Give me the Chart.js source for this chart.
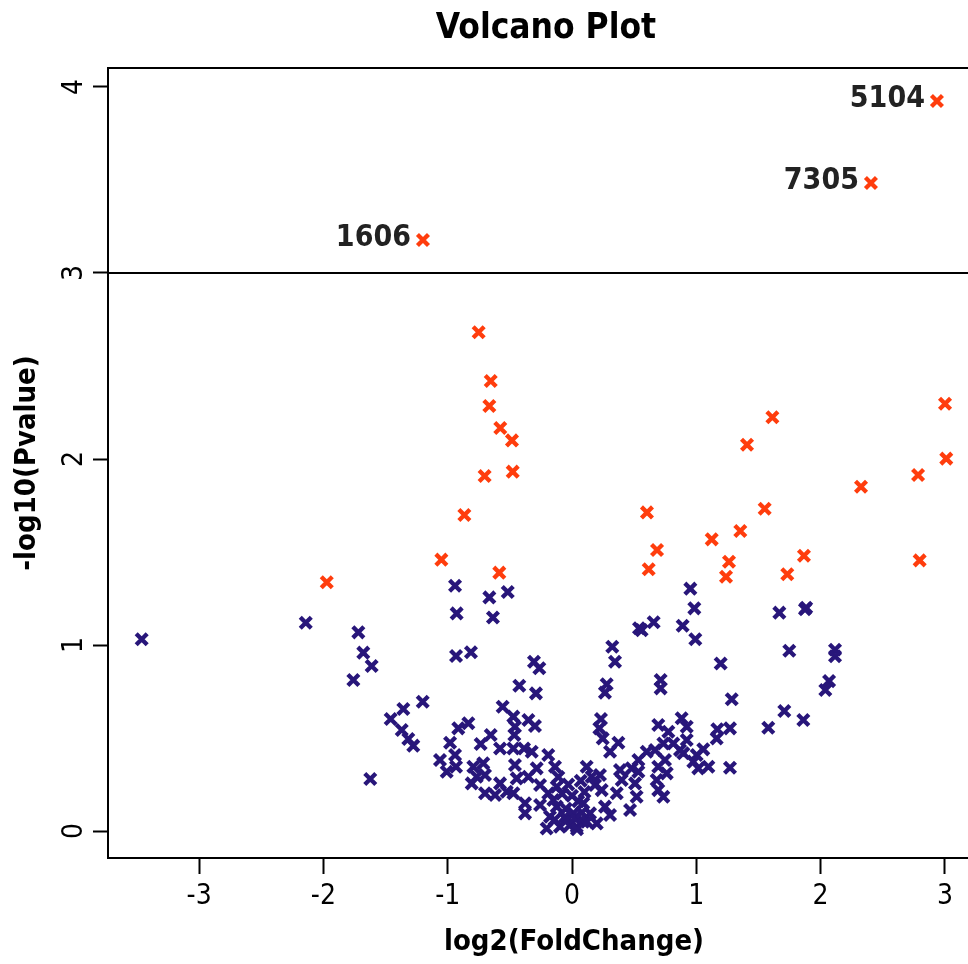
<!DOCTYPE html>
<html>
<head>
<meta charset="utf-8">
<script src="https://cdn.jsdelivr.net/npm/chart.js@4.4.0/dist/chart.umd.min.js"></script>
<style>
html, body { margin: 0; padding: 0; background: #fff; overflow: hidden; }
#wrap { width: 1092px; height: 964px; }
</style>
</head>
<body>
<div id="wrap"><canvas id="grafico" width="1092" height="964"></canvas></div>
<script>
const xTicks = [-3, -2, -1, 0, 1, 2, 3];
const yTicks = [0, 1, 2, 3, 4];
const xMin = -3.733, xMax = 3.765;
const yMin = -0.145, yMax = 4.102;
const limite = 3;

// pontos não significativos (azul)
const azulX = [
    -3.462, -2.142, -1.719, -1.679, -1.612, -1.759, -1.201, -1.357, -1.459, -1.370, -1.317, -1.277, -1.623,
    -0.941, -0.928, -0.665, -0.517, -0.636, 0.952, 0.984, 0.657, 0.539, 0.560, 0.890,
    0.992, 1.668, 1.874, 1.884, 1.748, 2.116, 2.116,
    2.068, 2.038, 1.708, 1.861, 1.579,
    1.196, 1.285, 1.271, 1.169, 1.164, 1.271, 1.056, 1.003, 1.097, 1.016, 0.976, 0.896,
    -0.933, -0.813, -0.306, -0.263, -0.424, -0.290, -0.558, -0.472, -0.459, -0.464, -0.351, -0.298,
    -0.834, -0.915, -0.654, -0.735, -0.981, -0.579, -0.472, -0.386, -0.324, -1.062, -0.941, -0.933,
    -1.008, -0.794, -0.714, -0.767, -0.700, -0.807, -0.459, -0.191, -0.137, -0.284, -0.351, -0.445,
    -0.579, -0.700, -0.619, -0.525, -0.472, -0.378, -0.378, -0.257, -0.257, -0.191, -0.123, -0.177,
    -0.123, -0.097, -0.056, -0.204,
    0.324, 0.346, 0.713, 0.713, 0.279, 0.265, 0.233, 0.220, 0.247, 0.373, 0.306, 0.694, 0.775,
    0.882, 0.923, 0.923, 0.869, 0.815, 0.735, 0.668, 0.601, 0.534, 0.480, 0.534, 0.694, 0.748,
    0.762, 0.681, 0.694, 0.735, 0.507, 0.520, 0.386, 0.400, 0.467, 0.360, 0.225, 0.185, 0.239,
    0.118, 0.158, 0.091, 0.145, 0.265, 0.306, 0.011, -0.150, -0.043, 0.038, 0.199, 0.091,
    -0.02, 0.02, -0.05, 0.05, -0.08, 0.08, 0.12, -0.14, 0.00, -0.03, 0.04, 0.10, -0.11, 0.07
];
const azulY = [
    1.031, 1.120, 1.068, 0.959, 0.887, 0.812, 0.695, 0.656, 0.602, 0.543, 0.495, 0.459, 0.280,
    1.319, 1.170, 1.256, 1.285, 1.148, 1.303, 1.197, 1.122, 1.090, 1.080, 1.104,
    1.031, 1.174, 1.192, 1.200, 0.969, 0.975, 0.940,
    0.806, 0.758, 0.645, 0.597, 0.555,
    0.901, 0.708, 0.552, 0.547, 0.498, 0.340, 0.439, 0.409, 0.346, 0.337, 0.373, 0.418,
    0.941, 0.961, 0.910, 0.875, 0.781, 0.740, 0.668, 0.615, 0.561, 0.516, 0.597, 0.565,
    0.579, 0.552, 0.516, 0.468, 0.475, 0.444, 0.444, 0.444, 0.426, 0.382, 0.409, 0.346,
    0.319, 0.346, 0.364, 0.292, 0.301, 0.256, 0.355, 0.409, 0.346, 0.337, 0.292, 0.283,
    0.256, 0.203, 0.194, 0.211, 0.203, 0.149, 0.095, 0.247, 0.140, 0.203, 0.238, 0.077,
    0.131, 0.023, 0.077, 0.014,
    0.991, 0.910, 0.812, 0.767, 0.789, 0.744, 0.602, 0.552, 0.498, 0.475, 0.426, 0.570, 0.534,
    0.606, 0.561, 0.489, 0.435, 0.471, 0.471, 0.435, 0.426, 0.382, 0.337, 0.319, 0.346, 0.382,
    0.310, 0.274, 0.220, 0.184, 0.256, 0.184, 0.328, 0.274, 0.113, 0.203, 0.301, 0.247, 0.220,
    0.346, 0.292, 0.149, 0.095, 0.131, 0.086, 0.095, 0.167, 0.059, 0.023, 0.041, 0.050,
    0.03, 0.07, 0.12, 0.16, 0.20, 0.10, 0.05, 0.06, 0.19, 0.25, 0.01, 0.21, 0.29, 0.27
];

// pontos significativos (vermelho)
const vermX = [
    -1.973, -0.751, -0.654, -0.665, -0.577, -0.483, -0.703, -0.477, -0.866, -1.051, -0.585,
    0.603, 0.684, 0.617, 3.001, 1.612, 1.408, 3.011, 2.784, 2.325, 1.550, 1.354, 1.124,
    1.263, 1.239, 1.866, 1.732, 2.797
];
const vermY = [
    1.337, 2.681, 2.419, 2.285, 2.167, 2.100, 1.909, 1.932, 1.699, 1.459, 1.389,
    1.713, 1.511, 1.407, 2.297, 2.224, 2.077, 2.002, 1.914, 1.851, 1.733, 1.613, 1.568,
    1.448, 1.367, 1.480, 1.380, 1.455
];

// pontos acima do limite, com rótulo
const rotuloX = [-1.199, 2.405, 2.936];
const rotuloY = [3.177, 3.484, 3.925];
const rotulos = ['1606', '7305', '5104'];

const corAzul = '#28167a';
const corVerm = '#ff3d0d';
const fonteB = 'DejaVu Sans Condensed, DejaVu Sans';

function pontos(xs, ys) {
    return xs.map((x, i) => ({ x, y: ys[i] }));
}

const moldura = {
    id: 'moldura',
    afterDraw(chart) {
        const { ctx, chartArea: a } = chart;
        ctx.save();
        ctx.strokeStyle = '#000';
        ctx.lineWidth = 2;
        ctx.strokeRect(a.left, a.top, a.right - a.left, a.bottom - a.top);
        ctx.restore();
    }
};

const textoRotulos = {
    id: 'textoRotulos',
    afterDatasetsDraw(chart) {
        const ctx = chart.ctx;
        const meta = chart.getDatasetMeta(2);
        ctx.save();
        ctx.font = 'bold 30px "DejaVu Sans Condensed", "DejaVu Sans"';
        ctx.fillStyle = '#222';
        ctx.textAlign = 'right';
        ctx.textBaseline = 'middle';
        meta.data.forEach((pt, i) => {
            ctx.fillText(rotulos[i], pt.x - 12, pt.y - 2);
        });
        ctx.restore();
    }
};

const estiloPonto = (cor) => ({
    pointStyle: 'crossRot',
    pointRadius: 7.8,
    pointHoverRadius: 7.8,
    pointBorderWidth: 4.3,
    borderColor: cor,
    backgroundColor: cor
});

new Chart(document.getElementById('grafico').getContext('2d'), {
    type: 'scatter',
    data: {
        datasets: [
            { label: 'ns', data: pontos(azulX, azulY), ...estiloPonto(corAzul) },
            { label: 'sig', data: pontos(vermX, vermY), ...estiloPonto(corVerm) },
            { label: 'top', data: pontos(rotuloX, rotuloY), ...estiloPonto(corVerm) },
            {
                type: 'line',
                label: 'limite',
                data: [{ x: xMin, y: limite }, { x: xMax, y: limite }],
                borderColor: '#000',
                borderWidth: 2,
                pointRadius: 0
            }
        ]
    },
    options: {
        responsive: false,
        animation: false,
        layout: { padding: 0 },
        plugins: {
            legend: { display: false },
            tooltip: { enabled: false },
            title: {
                display: true,
                text: 'Volcano Plot',
                color: '#000',
                font: { family: fonteB, size: 35, weight: 'bold', lineHeight: 1.2 },
                padding: { top: 8, bottom: 18 }
            }
        },
        scales: {
            x: {
                type: 'linear',
                min: xMin,
                max: xMax,
                afterBuildTicks: s => { s.ticks = xTicks.map(v => ({ value: v })); },
                afterFit: s => { s.height = 106; },
                grid: { display: true, drawOnChartArea: false, drawTicks: true, tickLength: 16, tickColor: '#000', tickWidth: 2 },
                border: { display: true, color: '#000', width: 2 },
                ticks: {
                    autoSkip: false,
                    color: '#000',
                    padding: 6,
                    font: { family: fonteB, size: 28 },
                    callback: v => String(v)
                },
                title: {
                    display: true,
                    text: 'log2(FoldChange)',
                    color: '#000',
                    font: { family: fonteB, size: 29, weight: 'bold', lineHeight: 1.2 },
                    padding: { top: 0, bottom: 4 }
                }
            },
            y: {
                type: 'linear',
                min: yMin,
                max: yMax,
                afterBuildTicks: s => { s.ticks = yTicks.map(v => ({ value: v })); },
                afterFit: s => { s.width = 108; },
                grid: { display: true, drawOnChartArea: false, drawTicks: true, tickLength: 15, tickColor: '#000', tickWidth: 2 },
                border: { display: true, color: '#000', width: 2 },
                ticks: {
                    color: '#000',
                    padding: 10,
                    minRotation: 90,
                    maxRotation: 90,
                    crossAlign: 'center',
                    font: { family: fonteB, size: 28 },
                    callback: v => String(v)
                },
                title: {
                    display: true,
                    text: '-log10(Pvalue)',
                    color: '#000',
                    font: { family: fonteB, size: 29, weight: 'bold', lineHeight: 1.2 },
                    padding: { top: 10, bottom: 0 }
                }
            },
            // eixo vazio à direita, só reserva espaço (o lado direito fica fora da janela)
            yDir: {
                type: 'linear',
                position: 'right',
                min: yMin,
                max: yMax,
                afterFit: s => { s.width = 52; },
                grid: { display: false },
                border: { display: false },
                ticks: { display: false }
            }
        }
    },
    plugins: [moldura, textoRotulos]
});
</script>
</body>
</html>
